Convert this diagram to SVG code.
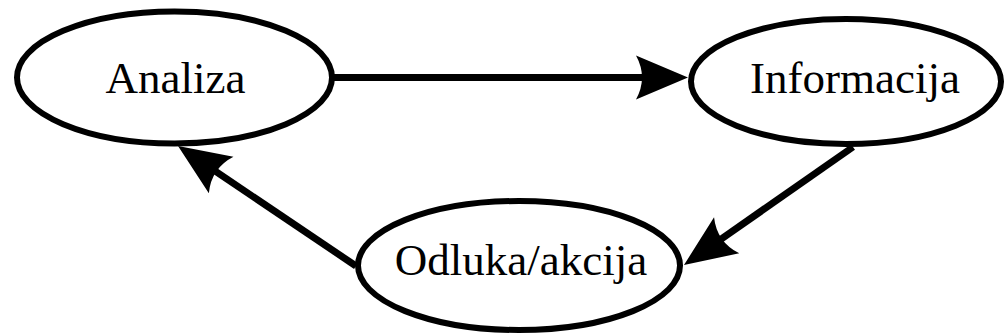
<svg xmlns="http://www.w3.org/2000/svg" width="1004" height="336" viewBox="0 0 1004 336">
<style>
.node ellipse{fill:#fff;stroke:#000;stroke-width:6}
.node text{font-family:"Liberation Serif","Times New Roman",serif;font-size:45px;fill:#000;text-anchor:middle}
.edge{stroke:#000;stroke-width:7;fill:none;marker-end:url(#head)}
</style>
<defs>
<marker id="head" markerUnits="userSpaceOnUse" viewBox="-15 -25 60 50" refX="0" refY="0" markerWidth="60" markerHeight="50" orient="auto">
<path d="M40,0 L-12,-22 Q0,0 -12,22 Z" fill="#000"/>
</marker>
</defs>
<g id="connectors">
<line class="edge" x1="332" y1="77.5" x2="648" y2="77.5"/>
<line class="edge" x1="853" y1="147" x2="716.8" y2="242.1"/>
<line class="edge" x1="356" y1="266" x2="211.2" y2="168.4"/>
</g>
<g id="analiza" class="node">
<ellipse cx="174.5" cy="77.5" rx="157.5" ry="66"/>
<text x="175.5" y="93">Analiza</text>
</g>
<g id="informacija" class="node">
<ellipse cx="846" cy="81.5" rx="155" ry="62.5"/>
<text x="855" y="93">Informacija</text>
</g>
<g id="odluka" class="node">
<ellipse cx="519" cy="265.5" rx="161" ry="64.5"/>
<text x="521" y="275">Odluka/akcija</text>
</g>
</svg>
